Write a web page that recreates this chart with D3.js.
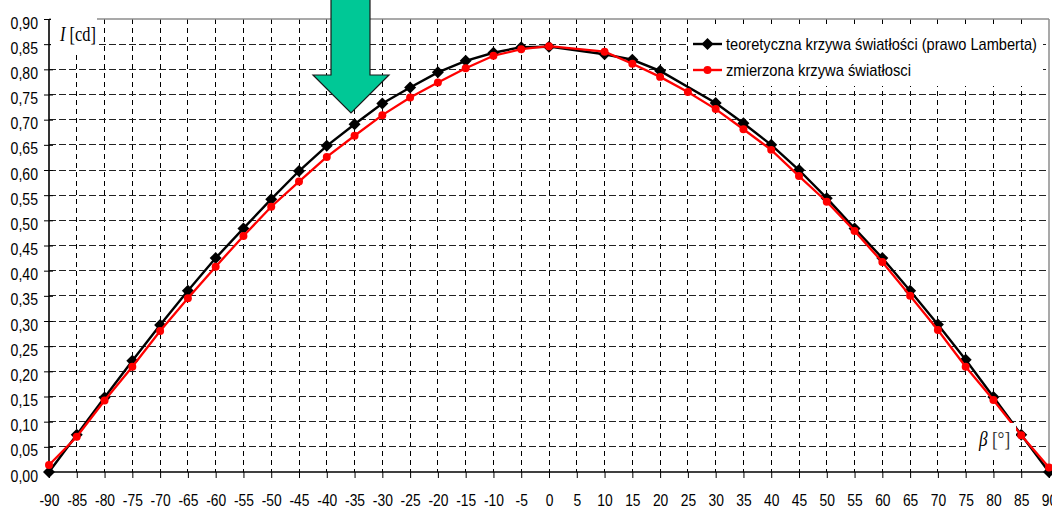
<!DOCTYPE html>
<html>
<head>
<meta charset="utf-8">
<script src="https://cdn.jsdelivr.net/npm/d3@7"></script>
<style>
  html, body { margin: 0; padding: 0; background: #fff; }
  svg { display: block; }
</style>
</head>
<body>
<svg id="chart" width="1052" height="508"></svg>
<script>
// ---- data ----
const xTicks = [-90,-85,-80,-75,-70,-65,-60,-55,-50,-45,-40,-35,-30,-25,-20,-15,-10,-5,0,5,10,15,20,25,30,35,40,45,50,55,60,65,70,75,80,85,90];
const yTicks = [0,0.05,0.10,0.15,0.20,0.25,0.30,0.35,0.40,0.45,0.50,0.55,0.60,0.65,0.70,0.75,0.80,0.85,0.90];
const yTickLabels = ["0,00","0,05","0,10","0,15","0,20","0,25","0,30","0,35","0,40","0,45","0,50","0,55","0,60","0,65","0,70","0,75","0,80","0,85","0,90"];

const theoryAngles = [-90,-85,-80,-75,-70,-65,-60,-55,-50,-45,-40,-35,-30,-25,-20,-15,-10,-5,0,10,15,20,30,35,40,45,50,55,60,65,70,75,80,85,90];
const theoryValues = [0.000,0.074,0.148,0.221,0.292,0.360,0.425,0.484,0.542,0.598,0.648,0.691,0.732,0.764,0.794,0.817,0.833,0.844,0.845,0.830,0.819,0.797,0.733,0.693,0.650,0.600,0.544,0.484,0.425,0.360,0.293,0.223,0.149,0.074,0.000];

const measuredAngles = [-90,-85,-80,-75,-70,-65,-60,-55,-50,-45,-40,-35,-30,-25,-20,-15,-10,-5,0,10,15,20,25,30,35,40,45,50,55,60,65,70,75,80,85,90];
const measuredValues = [0.014,0.070,0.142,0.209,0.280,0.345,0.408,0.469,0.527,0.577,0.626,0.668,0.709,0.744,0.774,0.802,0.827,0.840,0.846,0.835,0.811,0.785,0.755,0.721,0.681,0.640,0.588,0.537,0.479,0.417,0.350,0.282,0.209,0.143,0.073,0.009];

const legendLabels = ["teoretyczna krzywa światłości (prawo Lamberta)", "zmierzona krzywa światłosci"];

// ---- drawing ----
const svg = d3.select("#chart");
const x = d3.scaleLinear().domain([-90, 90]).range([49, 1049]);
const y = d3.scaleLinear().domain([0, 0.9]).range([472, 19]);

const FONT = "'Liberation Sans', Arial, sans-serif";
const SERIF = "'Liberation Serif', 'Times New Roman', serif";

// gridlines
const grid = svg.append("g").attr("shape-rendering", "crispEdges");
grid.selectAll("line.v").data(xTicks.filter(d => d > -90 && d < 90)).join("line")
  .attr("x1", d => x(d)).attr("x2", d => x(d))
  .attr("y1", y(0.9)).attr("y2", y(0))
  .attr("stroke", "#000").attr("stroke-width", 1).attr("stroke-dasharray", "5,4");
grid.selectAll("line.h").data(yTicks.filter(d => d > 0 && d < 0.9)).join("line")
  .attr("x1", x(-90)).attr("x2", x(90))
  .attr("y1", d => y(d)).attr("y2", d => y(d))
  .attr("stroke", "#222").attr("stroke-width", 1).attr("stroke-dasharray", "7,3");

// plot border (top/right)
svg.append("line").attr("x1", x(-90)).attr("x2", x(90)).attr("y1", y(0.9)).attr("y2", y(0.9))
  .attr("stroke", "#8c8c8c").attr("stroke-width", 1.5);
svg.append("line").attr("x1", x(90)).attr("x2", x(90)).attr("y1", y(0.9)).attr("y2", y(0))
  .attr("stroke", "#8c8c8c").attr("stroke-width", 1.5);

// axes
const yAxis = d3.axisLeft(y).tickValues(yTicks).tickSize(5).tickFormat((d, i) => yTickLabels[i]);
const gy = svg.append("g").attr("transform", `translate(${x(-90)},0)`).call(yAxis);
gy.select(".domain").attr("stroke", "#000").attr("stroke-width", 1.6).attr("d", `M0,${y(0.9)}V${y(0)}`);
gy.selectAll(".tick line").attr("stroke", "#000").attr("x1", 4).attr("x2", -5);
gy.selectAll(".tick text")
  .attr("x", null).attr("dy", null)
  .attr("font-family", FONT).attr("font-size", 16).attr("fill", "#000")
  .attr("text-anchor", "end")
  .attr("transform", "translate(-11,9) scale(0.88,1)");

const xAxis = d3.axisBottom(x).tickValues(xTicks).tickSize(6).tickFormat(d => String(d));
const gx = svg.append("g").attr("transform", `translate(0,${y(0)})`).call(xAxis);
gx.select(".domain").attr("stroke", "#000").attr("stroke-width", 1.6).attr("d", `M${x(-90)},0H${x(90)}`);
gx.selectAll(".tick line").attr("stroke", "#000").attr("y1", 0).attr("y2", 6);
gx.selectAll(".tick text")
  .attr("y", null).attr("dy", null)
  .attr("font-family", FONT).attr("font-size", 16.5).attr("fill", "#000")
  .attr("text-anchor", "middle")
  .attr("transform", "translate(0,34) scale(0.84,1)");

// series
const theory = theoryAngles.map((a, i) => [a, theoryValues[i]]);
const measured = measuredAngles.map((a, i) => [a, measuredValues[i]]);
const line = d3.line().x(d => x(d[0])).y(d => y(d[1]));

const diamond = d3.symbol().type(d3.symbolSquare).size(72)();
const circle = d3.symbol().type(d3.symbolCircle).size(50)();

svg.append("path").datum(theory).attr("d", line)
  .attr("fill", "none").attr("stroke", "#000").attr("stroke-width", 2.4);
svg.append("g").selectAll("path").data(theory).join("path")
  .attr("d", diamond).attr("fill", "#000")
  .attr("transform", d => `translate(${x(d[0])},${y(d[1])}) rotate(45)`);

svg.append("path").datum(measured).attr("d", line)
  .attr("fill", "none").attr("stroke", "#ff0000").attr("stroke-width", 2.3);
svg.append("g").selectAll("path").data(measured).join("path")
  .attr("d", circle).attr("fill", "#ff0000")
  .attr("transform", d => `translate(${x(d[0])},${y(d[1])})`);

// legend
const lg = svg.append("g");
lg.append("rect").attr("x", 688).attr("y", 28).attr("width", 355).attr("height", 58).attr("fill", "#fff");
const legendRows = [
  {label: legendLabels[0], color: "#000", sym: diamond, rot: 45, yy: 44, w: 311},
  {label: legendLabels[1], color: "#ff0000", sym: circle, rot: 0, yy: 70, w: 185}
];
legendRows.forEach(r => {
  lg.append("line").attr("x1", 693).attr("x2", 722).attr("y1", r.yy).attr("y2", r.yy)
    .attr("stroke", r.color).attr("stroke-width", 2.4);
  lg.append("path").attr("d", r.sym).attr("fill", r.color)
    .attr("transform", `translate(707.5,${r.yy}) rotate(${r.rot})`);
  lg.append("text").attr("x", 726).attr("y", r.yy + 6)
    .attr("font-family", FONT).attr("font-size", 17).attr("fill", "#000")
    .attr("textLength", r.w).attr("lengthAdjust", "spacingAndGlyphs")
    .text(r.label);
});

// axis name labels
svg.append("rect").attr("x", 51).attr("y", 14).attr("width", 46).attr("height", 38).attr("fill", "#fff");
const tI = svg.append("text").attr("font-family", SERIF).attr("font-size", 20).attr("fill", "#000")
  .attr("transform", "translate(60,41) scale(0.82,1)");
tI.append("tspan").attr("font-style", "italic").text("I");
tI.append("tspan").text(" [cd]");

svg.append("rect").attr("x", 968).attr("y", 423).attr("width", 48).attr("height", 33).attr("fill", "#fff");
const tB = svg.append("text").attr("font-family", SERIF).attr("font-size", 21).attr("fill", "#000")
  .attr("transform", "translate(979,446) scale(0.82,1)");
tB.append("tspan").attr("font-style", "italic").text("β");
tB.append("tspan").attr("fill", "#333").text(" [°]");

// arrow
svg.append("path")
  .attr("d", d3.line()([[331,-2],[370,-2],[370,75],[389,75],[351,113],[313,75],[331,75]]) + "Z")
  .attr("fill", "#00c896").attr("stroke", "#1a1a1a").attr("stroke-width", 1.2);
</script>
</body>
</html>
